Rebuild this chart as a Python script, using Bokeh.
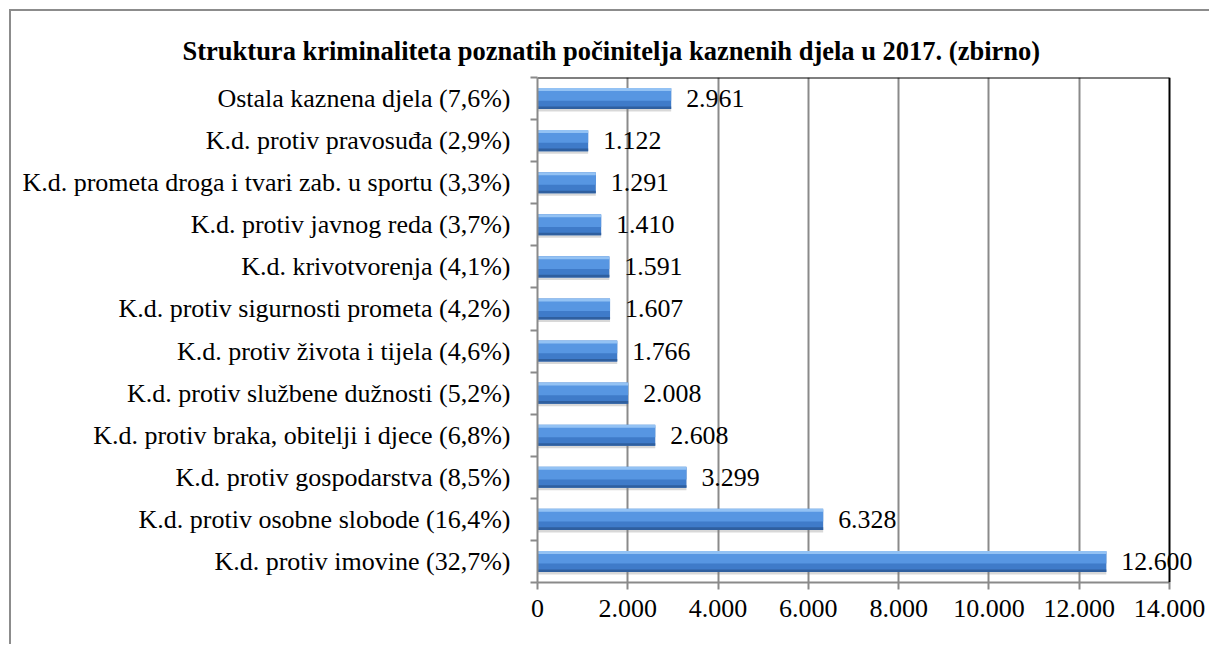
import numpy as np
from bokeh.plotting import figure
from bokeh.models import (FixedTicker, CustomJSTickFormatter, Range1d, Span,
                          ColumnDataSource, LabelSet)
from bokeh.embed import file_html
from bokeh.resources import INLINE

# ---- data (bottom to top) ----
categories = [
    "K.d. protiv imovine (32,7%)",
    "K.d. protiv osobne slobode (16,4%)",
    "K.d. protiv gospodarstva (8,5%)",
    "K.d. protiv braka, obitelji i djece (6,8%)",
    "K.d. protiv službene dužnosti (5,2%)",
    "K.d. protiv života i tijela (4,6%)",
    "K.d. protiv sigurnosti prometa (4,2%)",
    "K.d. krivotvorenja (4,1%)",
    "K.d. protiv javnog reda (3,7%)",
    "K.d. prometa droga i tvari zab. u sportu (3,3%)",
    "K.d. protiv pravosuđa (2,9%)",
    "Ostala kaznena djela (7,6%)",
]
values = [12600, 6328, 3299, 2608, 2008, 1766, 1607, 1591, 1410, 1291, 1122, 2961]
x_ticks = [0, 2000, 4000, 6000, 8000, 10000, 12000, 14000]
title_text = "Struktura kriminaliteta poznatih počinitelja kaznenih djela u 2017. (zbirno)"

n = len(categories)
ys = np.arange(n) + 0.5
labels = [f"{v:,}".replace(",", ".") for v in values]
src = ColumnDataSource(dict(y=ys, v=values, lab=labels))

# layout (canvas pixels)
W, H = 1200, 635
LEFT, TOP, BOTTOM = 526, 66, 64
AXIS_PX = 632                      # pixel length of 0..14000
frame_w = W - LEFT
x_end = x_ticks[-1] * frame_w / AXIS_PX   # frame extends past 14000 so value labels are not clipped

p = figure(width=W, height=H, output_backend="svg", toolbar_location=None,
           x_range=Range1d(0, x_end), y_range=Range1d(0, n),
           min_border_left=LEFT, min_border_right=0, min_border_top=TOP,
           min_border_bottom=BOTTOM,
           styles={"margin-left": "9px", "margin-top": "9px",
                   "border-left": "2px solid #8c8c8c", "border-top": "2px solid #8c8c8c"})
p.outline_line_color = None
p.background_fill_color = "white"
p.border_fill_color = "white"

# title
p.title.text = title_text
p.title.text_font = "Liberation Serif"
p.title.text_font_size = "26.5px"
p.title.text_font_style = "bold"
p.title.text_color = "black"
p.title.align = "left"
p.title.offset = -355
p.title.standoff = 24

# gridlines
p.xgrid.ticker = FixedTicker(ticks=x_ticks[:-1])
p.xgrid.grid_line_color = "#8a8a8a"
p.xgrid.grid_line_width = 2
p.ygrid.grid_line_color = None

# x axis
p.xaxis.ticker = FixedTicker(ticks=x_ticks)
p.xaxis.bounds = (x_ticks[0], x_ticks[-1])
p.xaxis.formatter = CustomJSTickFormatter(
    code="return tick.toFixed(0).replace(/\\B(?=(\\d{3})+(?!\\d))/g, '.');")
p.xaxis.axis_line_color = "#8a8a8a"
p.xaxis.axis_line_width = 2
p.xaxis.major_tick_line_color = "#8a8a8a"
p.xaxis.major_tick_line_width = 2
p.xaxis.major_tick_out = 7
p.xaxis.major_tick_in = 0
p.xaxis.minor_tick_line_color = None
p.xaxis.major_label_text_font = "Times New Roman"
p.xaxis.major_label_text_font_size = "26px"
p.xaxis.major_label_text_color = "black"
p.xaxis.major_label_standoff = 10

# y axis
p.yaxis.ticker = FixedTicker(ticks=list(ys), minor_ticks=list(range(n + 1)))
p.yaxis.formatter = CustomJSTickFormatter(args=dict(labels=categories),
                                          code="return labels[Math.floor(tick)];")
p.yaxis.axis_line_color = "#8a8a8a"
p.yaxis.axis_line_width = 2
p.yaxis.major_tick_out = 0
p.yaxis.major_tick_in = 0
p.yaxis.minor_tick_out = 7
p.yaxis.minor_tick_in = 0
p.yaxis.minor_tick_line_color = "#8a8a8a"
p.yaxis.minor_tick_line_width = 2
p.yaxis.major_label_text_font = "Liberation Serif"
p.yaxis.major_label_text_font_size = "26px"
p.yaxis.major_label_text_color = "black"
p.yaxis.major_label_standoff = 20

# plot-area border (top and right, black)
p.add_layout(Span(location=x_ticks[-1], dimension="height", line_color="black", line_width=2))
p.segment(x0=[x_ticks[0]], x1=[x_ticks[-1]], y0=[n], y1=[n], line_color="black", line_width=2)

# bars: shadow + layered strips for the bevelled look
p.hbar(y=ys - 0.06, right=values, left=0, height=0.5, fill_color="#7f7f7f",
       fill_alpha=0.3, line_color=None)
p.hbar(y=ys, right=values, left=0, height=0.5, fill_color="#3f7bc9", line_color=None)
p.hbar(y=ys + 0.09, right=values, left=0, height=0.28, fill_color="#5796e2", line_color=None)
p.hbar(y=ys + 0.215, right=values, left=0, height=0.07, fill_color="#93c2f4", line_color=None)
p.hbar(y=ys - 0.22, right=values, left=0, height=0.06, fill_color="#2f5f9f", line_color=None)

# value labels
p.add_layout(LabelSet(x="v", y="y", text="lab", source=src, x_offset=15,
                      text_baseline="middle", text_align="left", text_font="Times New Roman",
                      text_font_size="25.9px", text_color="black"))

open("out.html", "w").write(file_html(p, INLINE))
